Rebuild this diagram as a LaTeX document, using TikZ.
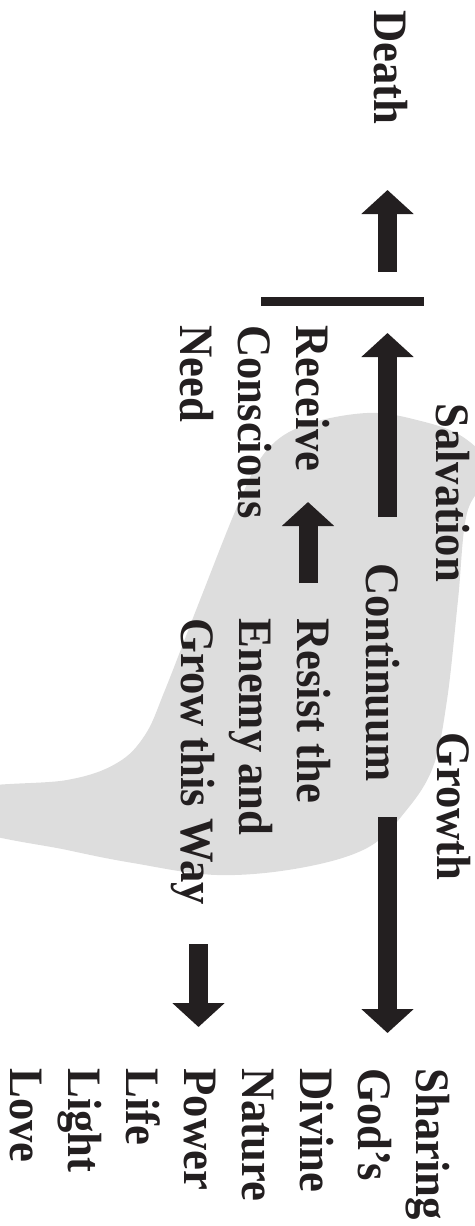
\documentclass[tikz,border=0pt]{standalone}
\usepackage{fontspec}
\setmainfont{Liberation Serif}[FakeStretch=0.93]
\usetikzlibrary{arrows.meta,positioning}
\definecolor{ink}{RGB}{35,31,32}
\definecolor{blobgrey}{RGB}{221,221,221}
\tikzstyle{word} = [rotate=-90, anchor=north west, inner sep=0pt, align=left, text=ink, font=\fontsize{24}{29}\selectfont\bfseries]
\tikzstyle{fat} = [draw=ink, line width=9.5pt, -{Triangle[length=12pt,width=25.5pt]}]

\begin{document}
\begin{tikzpicture}[x=0.5pt,y=-0.5pt]
    \useasboundingbox (0,0) rectangle (475,1226);
    % grey backdrop
    \begin{scope}
        \clip (0,0) rectangle (475,1226);
        \fill[blobgrey] plot[smooth cycle, tension=0.6] coordinates {
            (-30,790) (67,780) (117,763) (145,735) (165,690) (200,600)
            (240,500) (267,450) (305,425) (367,413) (417,420) (463,437)
            (490,470) (467,513) (458,600) (447,700) (433,767) (405,812)
            (367,848) (300,868) (217,875) (133,863) (67,850) (-30,828)};
    \end{scope}

    \node[word] (death) at (408,10) {Death};
    \node[word] (receive) at (330,325) {Receive\\Conscious\\Need};
    \node[word] (salvation) at (470,403) {Salvation};
    \node[word] (continuum) at (400,563) {Continuum};
    \node[word] (resist) at (331,618) {Resist the\\Enemy and\\Grow this Way};
    \node[word] (growth) at (471,732) {Growth};
    \node[word] (sharing) at (450,1068) {Sharing\\God's\\Divine\\Nature\\Power\\Life\\Light\\Love};

    \coordinate (barl) at (261,301.5);
    \coordinate (barr) at (424,301.5);
    \draw[ink, line width=4.5pt] (barl) -- (barr);

    \coordinate (up1a) at (387.5,272);
    \coordinate (up1b) at (387.5,190);
    \coordinate (up2a) at (387.5,517);
    \coordinate (up2b) at (387.5,333);
    \coordinate (up3a) at (308,583);
    \coordinate (up3b) at (308,502);
    \coordinate (dn1a) at (387.5,817);
    \coordinate (dn1b) at (387.5,1033);
    \coordinate (dn2a) at (198.5,944);
    \coordinate (dn2b) at (198.5,1027);
    \draw[fat] (up1a) -- (up1b);
    \draw[fat] (up2a) -- (up2b);
    \draw[fat] (up3a) -- (up3b);
    \draw[fat] (dn1a) -- (dn1b);
    \draw[fat] (dn2a) -- (dn2b);
\end{tikzpicture}
\end{document}
